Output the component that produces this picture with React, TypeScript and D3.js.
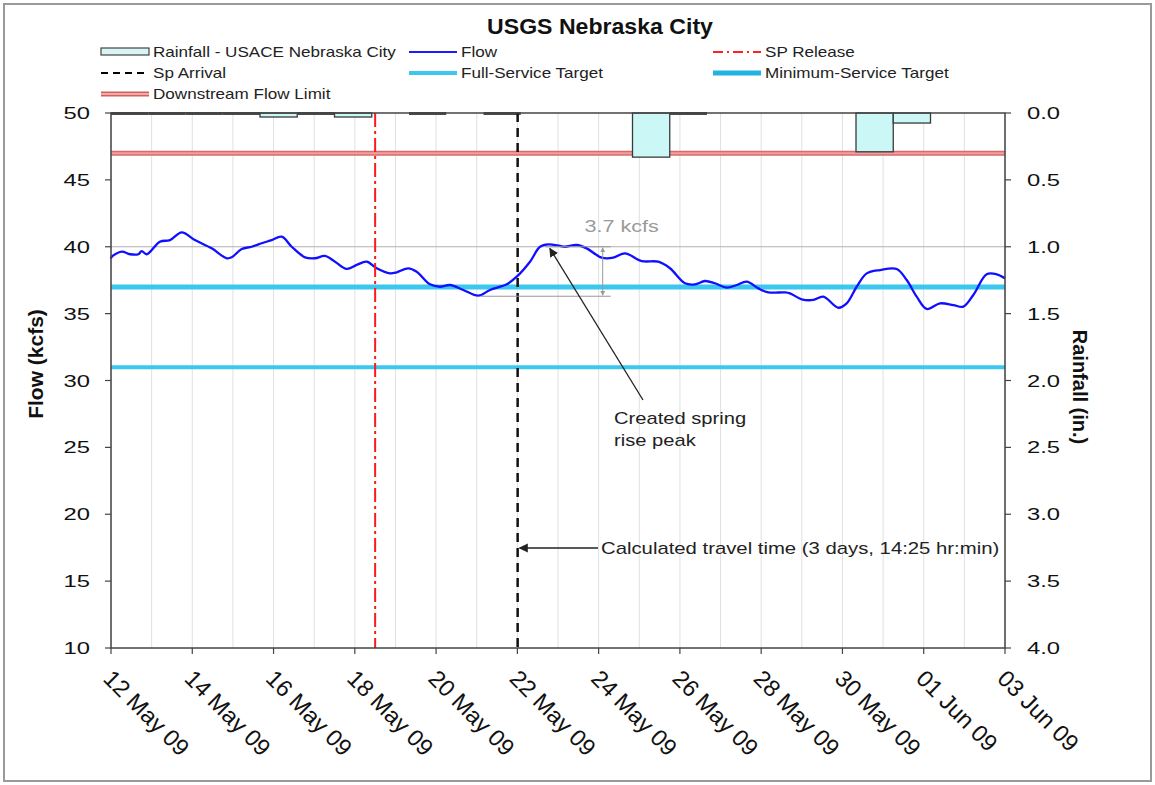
import React from "react";
import * as d3 from "d3";

// ---------- data ----------
const title = "USGS Nebraska City";
const startDate = new Date(2009, 4, 12);
const endDate = new Date(2009, 5, 3);

// flow: days after 12 May 2009 00:00, and kcfs
const flowDay = [0.0, 0.017, 0.263, 0.468, 0.672, 0.755, 0.879, 1.203, 1.452, 1.74, 2.065, 2.478, 2.847, 2.97, 3.216, 3.462, 3.709, 3.955, 4.201, 4.447, 4.774, 5.02, 5.266, 5.513, 5.8, 6.046, 6.292, 6.538, 6.866, 7.031, 7.316, 7.523, 7.85, 8.096, 8.342, 8.67, 9.039, 9.327, 9.738, 9.984, 10.311, 10.557, 10.761, 11.049, 11.172, 11.46, 11.706, 12.075, 12.361, 12.649, 13.06, 13.468, 13.756, 14.125, 14.371, 14.617, 14.864, 15.151, 15.397, 15.644, 15.929, 16.175, 16.586, 16.709, 16.997, 17.282, 17.528, 17.898, 18.104, 18.35, 18.597, 18.924, 19.335, 19.581, 19.827, 20.073, 20.401, 20.728, 20.974, 21.22, 21.549, 21.796, 22.0];
const flowKcfs = [39.1, 39.26, 39.63, 39.44, 39.44, 39.68, 39.44, 40.38, 40.5, 41.08, 40.5, 39.88, 39.14, 39.21, 39.83, 40.0, 40.26, 40.5, 40.75, 40.0, 39.21, 39.14, 39.31, 38.88, 38.34, 38.64, 38.88, 38.39, 38.01, 38.09, 38.39, 38.13, 37.19, 37.01, 37.14, 36.77, 36.34, 36.77, 37.19, 37.76, 38.88, 40.0, 40.18, 40.06, 40.0, 40.13, 39.88, 39.18, 39.18, 39.51, 38.93, 38.88, 38.39, 37.27, 37.19, 37.44, 37.27, 36.94, 37.14, 37.39, 36.89, 36.59, 36.59, 36.52, 36.07, 36.02, 36.27, 35.44, 35.77, 37.01, 38.01, 38.26, 38.34, 37.51, 36.27, 35.35, 35.77, 35.64, 35.52, 36.39, 37.94, 37.94, 37.64];

// rainfall: bar start (hours after 12 May 00:00) and inches
const rainStartHour = [0, 22, 44, 66, 88, 110, 132, 176, 220, 308, 330, 440, 462];
const rainInches = [0, 0, 0, 0, 0.03, 0, 0.03, 0, 0, 0.33, 0, 0.29, 0.075];
const rainBarHours = 22;

const fullServiceTarget = 37;
const minimumServiceTarget = 31;
const downstreamFlowLimit = 47;
const spRelease = new Date(2009, 4, 18, 12, 0);
const spArrival = new Date(2009, 4, 22, 0, 10);

const flowTicks = [10, 15, 20, 25, 30, 35, 40, 45, 50];
const rainTicks = [0, 0.5, 1, 1.5, 2, 2.5, 3, 3.5, 4];
const dateTickLabels = ["12 May 09", "14 May 09", "16 May 09", "18 May 09", "20 May 09", "22 May 09", "24 May 09", "26 May 09", "28 May 09", "30 May 09", "01 Jun 09", "03 Jun 09"];

const peakRangeTop = 40.0;
const peakRangeBottom = 36.3;
const peakLabel = "3.7 kcfs";

const legendItems = [
  { key: "rain", label: "Rainfall - USACE  Nebraska  City" },
  { key: "flow", label: "Flow" },
  { key: "sp", label: "SP Release" },
  { key: "arr", label: "Sp Arrival" },
  { key: "full", label: "Full-Service Target" },
  { key: "min", label: "Minimum-Service Target" },
  { key: "down", label: "Downstream Flow Limit" },
];

// ---------- layout ----------
const W = 1155, H = 785;
const L = 111, R = 1005, T = 113, B = 648;
const FONT = "Arial, 'Liberation Sans', sans-serif";
const DAY = 86400000;
const STRETCH = 1.22;

export default function App() {
  const x = d3.scaleTime().domain([startDate, endDate]).range([L, R]);
  const y = d3.scaleLinear().domain([10, 50]).range([B, T]);
  const yR = d3.scaleLinear().domain([0, 4]).range([T, B]);

  const toDate = (d: number) => new Date(startDate.getTime() + d * DAY);
  const flowPts = flowDay.map((d, i) => [toDate(d), flowKcfs[i]] as [Date, number]);
  const line = d3
    .line<[Date, number]>()
    .x((p) => x(p[0]))
    .y((p) => y(p[1]))
    .curve(d3.curveCatmullRom.alpha(0.5));

  const dailyGrid = d3.timeDay.range(startDate, d3.timeDay.offset(endDate, 1));
  const twoDay = d3.timeDay.range(startDate, d3.timeDay.offset(endDate, 1), 2);

  const cyan = "#3cc8ee";
  const cyanDark = "#22b4e0";

  // legend layout
  const colX = [101, 409, 713];
  const rowY = [52, 73, 94];
  const legendSymbol = (key: string, sx: number, sy: number) => {
    const w = 48;
    switch (key) {
      case "rain":
        return <rect x={sx} y={sy - 4} width={w} height={7} fill="#d8f4f4" stroke="#444" strokeWidth={1.2} />;
      case "flow":
        return <line x1={sx} x2={sx + w} y1={sy} y2={sy} stroke="#1a1aff" strokeWidth={2} />;
      case "sp":
        return <line x1={sx} x2={sx + w} y1={sy} y2={sy} stroke="#ff2020" strokeWidth={2} strokeDasharray="10,4,2,4" />;
      case "arr":
        return <line x1={sx} x2={sx + w} y1={sy} y2={sy} stroke="#000" strokeWidth={2} strokeDasharray="7,5" />;
      case "full":
        return <line x1={sx} x2={sx + w} y1={sy} y2={sy} stroke={cyan} strokeWidth={4} />;
      case "min":
        return <line x1={sx} x2={sx + w} y1={sy} y2={sy} stroke={cyanDark} strokeWidth={5} />;
      case "down":
        return (
          <g>
            <line x1={sx} x2={sx + w} y1={sy} y2={sy} stroke="#d06060" strokeWidth={5} />
            <line x1={sx} x2={sx + w} y1={sy} y2={sy} stroke="#f4a8a8" strokeWidth={2} />
          </g>
        );
    }
    return null;
  };

  const peakDate = toDate(10.75);
  const travelTextX = 601;
  const travelY = 548;

  const sText = (tx: number, ty: number, size: number, content: string, fill = "#222", k = STRETCH, anchor = "start") => (
    <text transform={`translate(${tx},${ty}) scale(${k},1)`} fontSize={size} fill={fill} textAnchor={anchor}>
      {content}
    </text>
  );

  return (
    <svg width={W} height={H} style={{ position: "absolute", left: 0, top: 0, background: "#fff" }} fontFamily={FONT}>
      <defs>
        <marker id="ah" viewBox="0 0 10 10" refX="9" refY="5" markerWidth="7" markerHeight="7" orient="auto-start-reverse">
          <path d="M0,0 L10,5 L0,10 z" fill="#222" />
        </marker>
        <marker id="ahg" viewBox="0 0 10 10" refX="9" refY="5" markerWidth="5" markerHeight="5" orient="auto-start-reverse">
          <path d="M0,0 L10,5 L0,10 z" fill="#999" />
        </marker>
      </defs>
      <rect x={4} y={4} width={W - 8} height={H - 8} fill="#fff" stroke="#9a9a9a" strokeWidth={2} />

      {/* title */}
      <text transform="translate(600,34) scale(1.05,1)" textAnchor="middle" fontSize={22} fontWeight="bold" fill="#111">
        {title}
      </text>

      {/* legend */}
      {legendItems.map((it, i) => {
        const col = i % 3;
        const row = Math.floor(i / 3);
        const sx = colX[col];
        const sy = rowY[row];
        return (
          <g key={it.key}>
            {legendSymbol(it.key, sx, sy)}
            {sText(sx + 52, sy + 5, 14, it.label)}
          </g>
        );
      })}

      {/* daily vertical gridlines */}
      {dailyGrid.map((d, i) => (
        <line key={i} x1={x(d)} x2={x(d)} y1={T} y2={B} stroke="#e0e0e0" strokeWidth={1} />
      ))}
      <line x1={L} x2={R} y1={y(40)} y2={y(40)} stroke="#b0b0b0" strokeWidth={1} />

      {/* targets and limits */}
      <line x1={L} x2={R} y1={y(downstreamFlowLimit)} y2={y(downstreamFlowLimit)} stroke="#d86a6a" strokeWidth={5} />
      <line x1={L} x2={R} y1={y(downstreamFlowLimit)} y2={y(downstreamFlowLimit)} stroke="#f0a0a0" strokeWidth={2} />
      <line x1={L} x2={R} y1={y(fullServiceTarget)} y2={y(fullServiceTarget)} stroke={cyan} strokeWidth={5} />
      <line x1={L} x2={R} y1={y(minimumServiceTarget)} y2={y(minimumServiceTarget)} stroke={cyan} strokeWidth={4} />

      {/* rainfall bars hanging from the top */}
      {rainStartHour.map((h, i) => {
        const x0 = x(new Date(startDate.getTime() + h * 3600000));
        const x1 = x(new Date(startDate.getTime() + (h + rainBarHours) * 3600000));
        const v = rainInches[i];
        if (v === 0) {
          return <rect key={i} x={x0} y={T - 1} width={x1 - x0} height={3} fill="#4a4a4a" />;
        }
        return (
          <rect key={i} x={x0} y={yR(0)} width={x1 - x0} height={yR(v) - yR(0)} fill="#ccf7f7" stroke="#3a3a3a" strokeWidth={1.3} />
        );
      })}

      {/* flow */}
      <path d={line(flowPts) || ""} fill="none" stroke="#1010ff" strokeWidth={2.3} />

      {/* SP release and arrival */}
      <line x1={x(spRelease)} x2={x(spRelease)} y1={T} y2={B} stroke="#ff1a1a" strokeWidth={2} strokeDasharray="14,4,3,4" />
      <line x1={x(spArrival)} x2={x(spArrival)} y1={T} y2={B} stroke="#111" strokeWidth={2.5} strokeDasharray="9,6" />

      {/* 3.7 kcfs annotation */}
      <line x1={x(toDate(10.7))} x2={x(toDate(12.3))} y1={y(peakRangeTop)} y2={y(peakRangeTop)} stroke="#999" strokeWidth={1} />
      <line x1={x(toDate(9.1))} x2={x(toDate(12.3))} y1={y(peakRangeBottom)} y2={y(peakRangeBottom)} stroke="#999" strokeWidth={1} />
      <line
        x1={x(toDate(12.1))}
        x2={x(toDate(12.1))}
        y1={(y(peakRangeTop) + y(peakRangeBottom)) / 2}
        y2={y(peakRangeTop) + 1}
        stroke="#999"
        strokeWidth={1}
        markerEnd="url(#ahg)"
      />
      <line
        x1={x(toDate(12.1))}
        x2={x(toDate(12.1))}
        y1={(y(peakRangeTop) + y(peakRangeBottom)) / 2}
        y2={y(peakRangeBottom) - 1}
        stroke="#999"
        strokeWidth={1}
        markerEnd="url(#ahg)"
      />
      {sText(x(toDate(11.65)), 232, 16, peakLabel, "#9a9a9a", 1.35)}

      {/* created spring rise peak */}
      <line x1={643} y1={400} x2={x(peakDate) + 2} y2={y(40.1) + 3} stroke="#222" strokeWidth={1.3} markerEnd="url(#ah)" />
      {sText(614, 424, 16, "Created spring", "#222", 1.26)}
      {sText(614, 446, 16, "rise peak", "#222", 1.26)}

      {/* travel time */}
      <line x1={travelTextX - 3} x2={x(spArrival) + 2} y1={travelY} y2={travelY} stroke="#222" strokeWidth={1.3} markerEnd="url(#ah)" />
      {sText(travelTextX, travelY + 6, 16, "Calculated travel time (3 days, 14:25 hr:min)", "#222", 1.27)}

      {/* plot frame */}
      <rect x={L} y={T} width={R - L} height={B - T} fill="none" stroke="#444" strokeWidth={1.5} />

      {/* left axis */}
      {flowTicks.map((t) => (
        <g key={t}>
          <line x1={L - 6} x2={L} y1={y(t)} y2={y(t)} stroke="#444" strokeWidth={1.2} />
          {sText(90, y(t) + 6, 17, String(t), "#111", 1.4, "end")}
        </g>
      ))}
      {/* right axis */}
      {rainTicks.map((t) => (
        <g key={t}>
          <line x1={R} x2={R + 6} y1={yR(t)} y2={yR(t)} stroke="#444" strokeWidth={1.2} />
          {sText(1027, yR(t) + 6, 17, t.toFixed(1), "#111", 1.4)}
        </g>
      ))}
      {/* x axis */}
      {twoDay.map((d, i) => (
        <g key={i}>
          <line x1={x(d)} x2={x(d)} y1={B} y2={B + 6} stroke="#444" strokeWidth={1.2} />
          <text transform={`translate(${x(d) - 9},${B + 32}) rotate(45)`} fontSize={23.5} fill="#111">
            {dateTickLabels[i]}
          </text>
        </g>
      ))}

      <text transform={`translate(43,364) rotate(-90)`} textAnchor="middle" fontSize={21} fontWeight="bold" fill="#111">
        Flow (kcfs)
      </text>
      <text transform={`translate(1073,387) rotate(90)`} textAnchor="middle" fontSize={20} fontWeight="bold" fill="#111">
        Rainfall (in.)
      </text>
    </svg>
  );
}
